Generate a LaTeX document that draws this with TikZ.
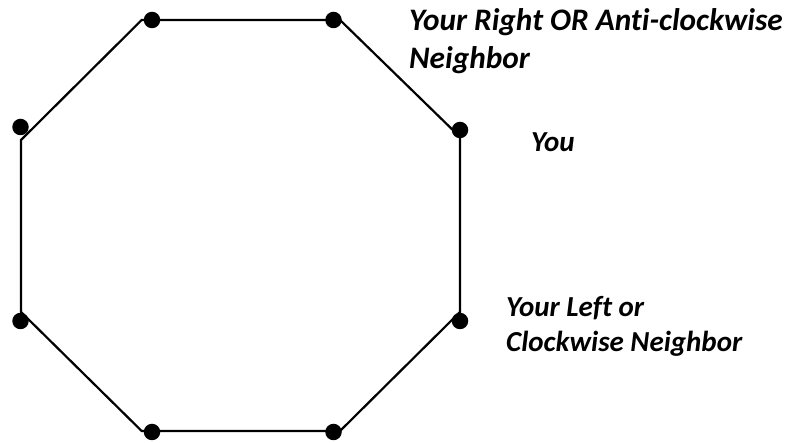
\documentclass[tikz,border=0pt]{standalone}
\usepackage{fontspec}
\setmainfont[Ligatures=NoCommon]{Carlito}
\begin{document}
\begin{tikzpicture}[x=1pt,y=-1pt,
  edge/.style={line width=2.2pt, line join=miter},
  seat/.style={circle, fill=black, inner sep=0pt, minimum size=16.5pt},
  lbl/.style={inner sep=0pt, anchor=base west, font=\fontsize{29}{35.5}\selectfont\bfseries\itshape, align=left},
  biglbl/.style={lbl, font=\fontsize{31.3}{38}\selectfont\bfseries\itshape}]
\useasboundingbox (0,0) rectangle (793,443);

% corners of the table outline
\coordinate (c1) at (141.7,20);
\coordinate (c2) at (340,20);
\coordinate (c3) at (460,137);
\coordinate (c4) at (460,312);
\coordinate (c5) at (340,431);
\coordinate (c6) at (141.7,431);
\coordinate (c7) at (21,312);
\coordinate (c8) at (21,140);
\draw[edge] (c1) -- (c2) -- (c3) -- (c4) -- (c5) -- (c6) -- (c7) -- (c8) -- cycle;

% people around the table
\node[seat] (p1) at (152,20) {};
\node[seat] (p2) at (333.5,20) {};
\node[seat] (p3) at (460,130) {};
\node[seat] (p4) at (460,321) {};
\node[seat] (p5) at (333.5,432) {};
\node[seat] (p6) at (152,432) {};
\node[seat] (p7) at (20.5,321) {};
\node[seat] (p8) at (20.5,127) {};

% labels (the base anchor sits on the last line)
\node[biglbl] (right) at (409,69) {Your Right OR Anti-clockwise\\Neighbor};
\node[lbl] (you) at (531,151.5) {You};
\node[lbl] (left) at (506,352) {Your Left or\\Clockwise Neighbor};
\end{tikzpicture}
\end{document}
